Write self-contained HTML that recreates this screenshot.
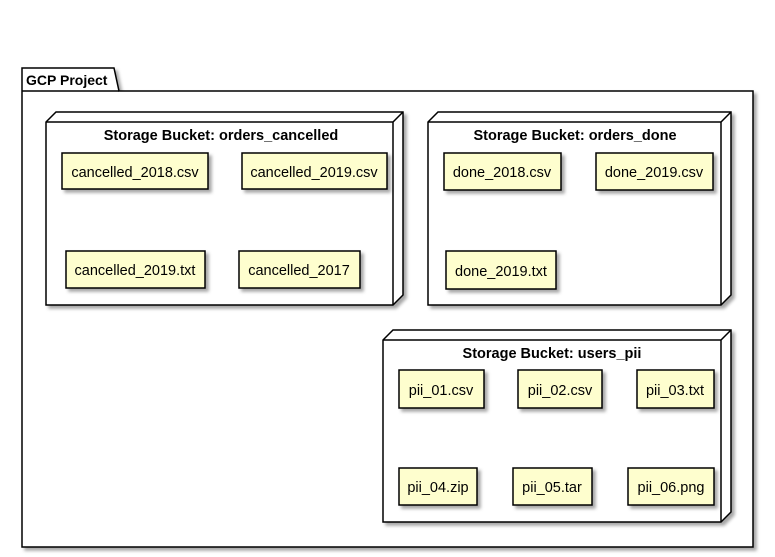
<!DOCTYPE html>
<html><head><style>body{margin:0;background:#fff}svg{display:block}</style></head><body>
<svg width="775" height="557" xmlns="http://www.w3.org/2000/svg" font-family="'Liberation Sans',sans-serif">
<defs><filter id="s" x="-5%" y="-5%" width="115%" height="115%"><feDropShadow dx="3" dy="3" stdDeviation="1.5" flood-color="#000" flood-opacity="0.35"/></filter></defs>
<g filter="url(#s)">
<path d="M22,91 L22,68 L114,68 L119,91 L753,91 L753,547 L22,547 Z" fill="#fff" stroke="#000" stroke-width="1.5"/>
</g>
<line x1="22" y1="91" x2="119" y2="91" stroke="#000" stroke-width="1.5"/>
<text x="26" y="85" font-size="14" font-weight="bold">GCP Project</text>

<g stroke="#000" stroke-width="1.5" fill="#fff">
<g filter="url(#s)"><path d="M46,122 L56,112 L403,112 L403,295 L393,305 L46,305 Z"/></g>
<path d="M46,122 L393,122 L403,112 M393,122 L393,305" fill="none"/>
<g filter="url(#s)"><path d="M428,122 L438,112 L731,112 L731,295 L721,305 L428,305 Z"/></g>
<path d="M428,122 L721,122 L731,112 M721,122 L721,305" fill="none"/>
<g filter="url(#s)"><path d="M383,340 L393,330 L731,330 L731,512 L721,522 L383,522 Z"/></g>
<path d="M383,340 L721,340 L731,330 M721,340 L721,522" fill="none"/>
</g>
<g font-size="14.5" font-weight="bold" text-anchor="middle">
<text x="221" y="140">Storage Bucket: orders_cancelled</text>
<text x="575" y="140">Storage Bucket: orders_done</text>
<text x="552" y="358">Storage Bucket: users_pii</text>
</g>
<g fill="#FEFECE" stroke="#000" stroke-width="1.5" filter="url(#s)">
<rect x="62" y="153" width="146" height="36"/>
<rect x="242" y="153" width="145" height="36"/>
<rect x="66" y="251" width="139" height="37"/>
<rect x="239" y="251" width="121" height="37"/>
<rect x="444" y="153" width="117" height="37"/>
<rect x="596" y="153" width="117" height="37"/>
<rect x="446" y="251" width="110" height="38"/>
<rect x="399" y="370" width="85" height="38"/>
<rect x="518" y="370" width="84" height="38"/>
<rect x="637" y="370" width="77" height="38"/>
<rect x="399" y="468" width="78" height="37"/>
<rect x="513" y="468" width="79" height="37"/>
<rect x="628" y="468" width="86" height="37"/>
</g>
<g font-size="14.5" text-anchor="middle">
<text x="135" y="177">cancelled_2018.csv</text>
<text x="314" y="177">cancelled_2019.csv</text>
<text x="135" y="275">cancelled_2019.txt</text>
<text x="299" y="275">cancelled_2017</text>
<text x="502" y="177">done_2018.csv</text>
<text x="654" y="177">done_2019.csv</text>
<text x="501" y="276">done_2019.txt</text>
<text x="441" y="395">pii_01.csv</text>
<text x="560" y="395">pii_02.csv</text>
<text x="675" y="395">pii_03.txt</text>
<text x="438" y="492">pii_04.zip</text>
<text x="552" y="492">pii_05.tar</text>
<text x="671" y="492">pii_06.png</text>
</g>
</svg>
</body></html>
